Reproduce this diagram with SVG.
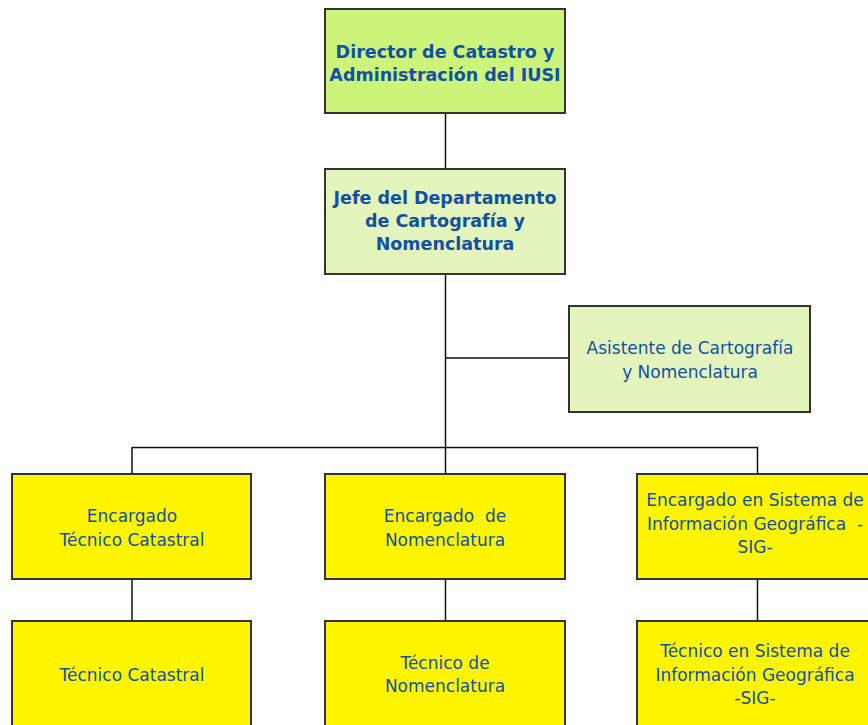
<svg xmlns="http://www.w3.org/2000/svg" width="868" height="725" viewBox="0 0 868 725">
<style>
.box{stroke:#333;stroke-width:2}
.g1{fill:#ccf47a}
.g2{fill:#e3f5bd}
.y{fill:#fff500}
text{font-family:"DejaVu Sans","Liberation Sans",sans-serif;font-size:17px;fill:#1150a5;text-anchor:middle}
.b{font-weight:bold;font-size:17.5px}
.pre{white-space:pre}
.con{stroke:#111;stroke-width:1.5;fill:none}
</style>
<g id="connectors">
<path class="con" d="M445.5 114V169M445.5 274V447M445.5 358H569M132 447.5H757.5M132 447V474M445.5 447V474M757.5 447V474M132 579V621M445.5 579V621M757.5 579V621"/>
</g>
<g id="director"><rect class="box g1" x="325" y="9" width="240" height="104"/><text class="b" x="445" y="58">Director de Catastro y</text><text class="b" x="445" y="81">Administración del IUSI</text></g>
<g id="jefe"><rect class="box g2" x="325" y="169" width="240" height="105"/><text class="b" x="445" y="204">Jefe del Departamento</text><text class="b" x="445" y="227">de Cartografía y</text><text class="b" x="445" y="250">Nomenclatura</text></g>
<g id="asistente"><rect class="box g2" x="569" y="306" width="241" height="106"/><text x="690" y="354">Asistente de Cartografía</text><text x="690" y="378">y Nomenclatura</text></g>
<g id="enc-tecnico"><rect class="box y" x="12" y="474" width="239" height="105"/><text x="132" y="522">Encargado</text><text x="132" y="546">Técnico Catastral</text></g>
<g id="enc-nomen"><rect class="box y" x="325" y="474" width="240" height="105"/><text class="pre" x="445" y="522">Encargado  de</text><text x="445" y="546">Nomenclatura</text></g>
<g id="enc-sig"><rect class="box y" x="637" y="474" width="240" height="105"/><text x="755" y="506">Encargado en Sistema de</text><text class="pre" x="755" y="530">Información Geográfica  -</text><text x="755" y="553">SIG-</text></g>
<g id="tec-catastral"><rect class="box y" x="12" y="621" width="239" height="110"/><text x="132" y="681">Técnico Catastral</text></g>
<g id="tec-nomen"><rect class="box y" x="325" y="621" width="240" height="110"/><text x="445" y="669">Técnico de</text><text x="445" y="692">Nomenclatura</text></g>
<g id="tec-sig"><rect class="box y" x="637" y="621" width="240" height="110"/><text x="755" y="657">Técnico en Sistema de</text><text x="755" y="681">Información Geográfica</text><text x="755" y="704">-SIG-</text></g>
</svg>
